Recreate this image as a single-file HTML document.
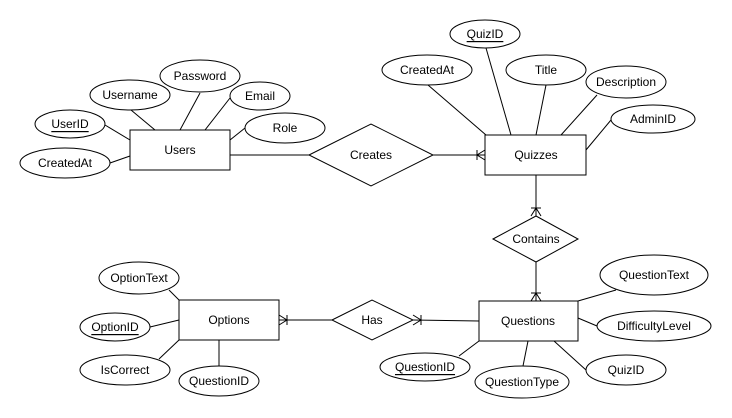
<!DOCTYPE html>
<html><head><style>body{margin:0;background:#fff}svg{display:block}text{font-family:"Liberation Sans",Arial,sans-serif;font-size:12px;fill:#000}</style></head><body>
<svg width="732" height="418" viewBox="0 0 732 418" xmlns="http://www.w3.org/2000/svg">
<g stroke="#000" stroke-width="1" fill="none">
<!-- lines -->
<line x1="131" y1="110" x2="155" y2="130"/><line x1="200" y1="93" x2="180" y2="130"/><line x1="230" y1="98" x2="205" y2="130"/><line x1="245" y1="128" x2="230" y2="140"/><line x1="105" y1="125" x2="130" y2="140"/><line x1="110" y1="163" x2="130" y2="156"/>
<line x1="230" y1="155" x2="309" y2="155"/><line x1="433" y1="155" x2="485" y2="155"/>
<line x1="428" y1="85" x2="486" y2="135"/><line x1="486" y1="48" x2="511" y2="135"/><line x1="546" y1="85" x2="536" y2="135"/><line x1="597" y1="95" x2="561" y2="135"/><line x1="611" y1="120" x2="586" y2="150"/>
<line x1="536" y1="175" x2="536" y2="216"/><line x1="536" y1="262" x2="536" y2="301"/>
<line x1="616" y1="290" x2="578" y2="301"/><line x1="597" y1="326" x2="578" y2="318"/><line x1="586" y1="370" x2="554" y2="341"/><line x1="523" y1="366" x2="528" y2="341"/><line x1="459" y1="356" x2="479" y2="341"/>
<line x1="413" y1="320" x2="479" y2="321"/><line x1="279" y1="320" x2="332" y2="320"/>
<line x1="169" y1="290" x2="179" y2="300"/><line x1="150" y1="327" x2="179" y2="320"/><line x1="159" y1="359" x2="179" y2="340"/><line x1="219" y1="340" x2="219" y2="366"/>
<!-- crowfeet -->
<path d="M485 150 L477 155 L485 160 M477 150 L477 160"/>
<path d="M531 216 L536 208 L541 216 M531 208 L541 208"/>
<path d="M531 301 L536 293 L541 301 M531 293 L541 293"/>
<path d="M413 315 L421 320 L413 325 M421 315 L421 325"/>
<path d="M279 315 L287 320 L279 325 M287 315 L287 325"/>
<!-- entities -->
<rect x="130" y="130" width="100" height="40" fill="#fff"/>
<rect x="485" y="135" width="101" height="40" fill="#fff"/>
<rect x="479" y="301" width="99" height="40" fill="#fff"/>
<rect x="179" y="300" width="100" height="40" fill="#fff"/>
<!-- diamonds -->
<polygon points="309,155 371,124 433,155 371,186" fill="#fff"/>
<polygon points="493,239 536,216 578,239 536,262" fill="#fff"/>
<polygon points="332,320 372,300 413,320 372,340" fill="#fff"/>
<!-- ellipses -->
<g fill="#fff">
<ellipse cx="200" cy="76" rx="40" ry="16"/><ellipse cx="130" cy="95" rx="40" ry="15"/><ellipse cx="260" cy="96" rx="30" ry="14"/><ellipse cx="70" cy="124" rx="35" ry="14"/><ellipse cx="285" cy="128" rx="40" ry="15"/><ellipse cx="65" cy="163" rx="45" ry="15"/>
<ellipse cx="485" cy="34" rx="35" ry="14"/><ellipse cx="427" cy="70" rx="45" ry="15"/><ellipse cx="546" cy="70" rx="40" ry="15"/><ellipse cx="626" cy="82" rx="40" ry="16"/><ellipse cx="653" cy="119" rx="42" ry="14"/>
<ellipse cx="654" cy="275" rx="54" ry="20"/><ellipse cx="654" cy="326" rx="57" ry="15"/><ellipse cx="626" cy="370" rx="40" ry="15"/><ellipse cx="522" cy="382" rx="47" ry="16"/><ellipse cx="425" cy="367" rx="45" ry="14"/>
<ellipse cx="139" cy="278" rx="40" ry="16"/><ellipse cx="115" cy="327" rx="35" ry="14"/><ellipse cx="125" cy="370" rx="45" ry="15"/><ellipse cx="219" cy="381" rx="40" ry="15"/>
</g>
</g>
<g text-anchor="middle" dominant-baseline="central">
<text x="180" y="150">Users</text><text x="536" y="155">Quizzes</text><text x="528" y="321">Questions</text><text x="229" y="320">Options</text>
<text x="371" y="155">Creates</text><text x="536" y="239">Contains</text><text x="372" y="320">Has</text>
<text x="200" y="76">Password</text><text x="130" y="95">Username</text><text x="260" y="96">Email</text><text x="70" y="124" text-decoration="underline">UserID</text><text x="285" y="128">Role</text><text x="65" y="163">CreatedAt</text>
<text x="485" y="34" text-decoration="underline">QuizID</text><text x="427" y="70">CreatedAt</text><text x="546" y="70">Title</text><text x="626" y="82">Description</text><text x="653" y="119">AdminID</text>
<text x="654" y="275">QuestionText</text><text x="654" y="326">DifficultyLevel</text><text x="626" y="370">QuizID</text><text x="522" y="382">QuestionType</text><text x="425" y="367" text-decoration="underline">QuestionID</text>
<text x="139" y="278">OptionText</text><text x="115" y="327" text-decoration="underline">OptionID</text><text x="125" y="370">IsCorrect</text><text x="219" y="381">QuestionID</text>
</g>
</svg>
</body></html>
